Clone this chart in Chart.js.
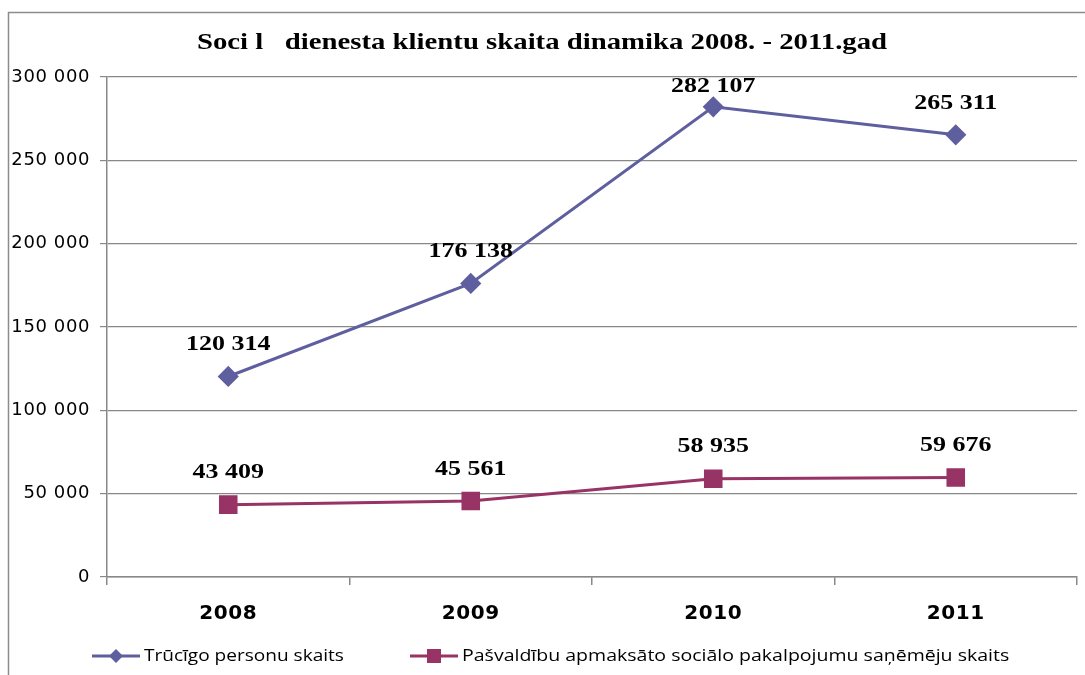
<!DOCTYPE html>
<html>
<head>
<meta charset="utf-8">
<script src="https://cdn.jsdelivr.net/npm/chart.js@4"></script>
<style>
  html, body { margin: 0; padding: 0; background: #fff; overflow: hidden; }
  #wrap { width: 1085px; height: 675px; }
</style>
</head>
<body>
<div id="wrap"><canvas id="chart" width="1085" height="675"></canvas></div>
<script>
const years = ['2008', '2009', '2010', '2011'];
const poorPersons = [120314, 176138, 282107, 265311];
const paidServices = [43409, 45561, 58935, 59676];
const seriesNames = ['Trūcīgo personu skaits', 'Pašvaldību apmaksāto sociālo pakalpojumu saņēmēju skaits'];
const yTicks = [0, 50000, 100000, 150000, 200000, 250000, 300000];
const chartTitle = 'Soci l   dienesta klientu skaita dinamika 2008. - 2011.gad';

const colors = ['#5f5f9f', '#983366'];

function fmt(v) {
    return String(v).replace(/\B(?=(\d{3})+(?!\d))/g, ' ');
}

// text stretched horizontally, the original is a wide render
function wideText(ctx, text, x, y, sx, align) {
    ctx.save();
    ctx.translate(x, y);
    ctx.scale(sx, 1);
    ctx.textAlign = align;
    ctx.fillText(text, 0, 0);
    ctx.restore();
}

// frame, title, value labels, legend
const extras = {
    id: 'extras',
    beforeDraw(chart) {
        const ctx = chart.ctx;
        ctx.save();
        ctx.strokeStyle = '#8c8c8c';
        ctx.lineWidth = 1.5;
        ctx.beginPath();
        ctx.moveTo(8.5, 675);
        ctx.lineTo(8.5, 12.5);
        ctx.lineTo(1085, 12.5);
        ctx.stroke();
        ctx.restore();
        // slightly wider axis text, like the original
        ctx.letterSpacing = '0.6px';
    },
    afterDatasetsDraw(chart) {
        const ctx = chart.ctx;
        ctx.letterSpacing = '0px';
        ctx.save();
        ctx.fillStyle = '#000';
        ctx.textBaseline = 'middle';
        ctx.font = 'bold 23px "Liberation Serif", "Times New Roman", serif';
        wideText(ctx, chartTitle, 542, 43, 1.25, 'center');

        ctx.font = 'bold 22px "Liberation Serif", "Times New Roman", serif';
        chart.data.datasets.forEach((ds, i) => {
            chart.getDatasetMeta(i).data.forEach((pt, j) => {
                const y = Math.max(pt.y - 32, 86);
                wideText(ctx, fmt(ds.data[j]), pt.x, y, 1.18, 'center');
            });
        });

        // legend
        ctx.font = '16px "Open Sans", sans-serif';
        const items = [{x: 92, style: 'diamond', sx: 1.19}, {x: 410, style: 'square', sx: 1.22}];
        items.forEach((it, i) => {
            const y = 656;
            ctx.strokeStyle = colors[i];
            ctx.fillStyle = colors[i];
            ctx.lineWidth = 3;
            ctx.beginPath();
            ctx.moveTo(it.x, y);
            ctx.lineTo(it.x + 48, y);
            ctx.stroke();
            const cx = it.x + 24;
            ctx.beginPath();
            if (it.style === 'diamond') {
                ctx.moveTo(cx, y - 7);
                ctx.lineTo(cx + 7, y);
                ctx.lineTo(cx, y + 7);
                ctx.lineTo(cx - 7, y);
                ctx.closePath();
            } else {
                ctx.rect(cx - 7, y - 7, 14, 14);
            }
            ctx.fill();
            ctx.fillStyle = '#000';
            wideText(ctx, seriesNames[i], it.x + 52, y, it.sx, 'left');
        });
        ctx.restore();
    }
};

new Chart(document.getElementById('chart'), {
    type: 'line',
    data: {
        labels: years,
        datasets: [
            {
                label: seriesNames[0],
                data: poorPersons,
                borderColor: colors[0],
                backgroundColor: colors[0],
                borderWidth: 3,
                pointStyle: 'rectRot',
                pointRadius: 8.5,
                pointHoverRadius: 8.5,
                tension: 0
            },
            {
                label: seriesNames[1],
                data: paidServices,
                borderColor: colors[1],
                backgroundColor: colors[1],
                borderWidth: 3,
                pointStyle: 'rect',
                pointRadius: 11,
                pointHoverRadius: 11,
                tension: 0
            }
        ]
    },
    options: {
        responsive: false,
        animation: false,
        events: [],
        layout: { autoPadding: false, padding: { top: 77, right: 8, left: 0, bottom: 0 } },
        plugins: {
            legend: { display: false },
            title: { display: false },
            tooltip: { enabled: false }
        },
        scales: {
            x: {
                offset: true,
                grid: { offset: true, drawOnChartArea: false, color: '#888', tickLength: 8, lineWidth: 1.5 },
                border: { color: '#888', width: 1.5 },
                ticks: {
                    color: '#000',
                    padding: 17,
                    font: { family: '"DejaVu Sans", sans-serif', size: 20, weight: 'bold' }
                },
                afterFit(scale) { scale.height = 98; }
            },
            y: {
                min: 0,
                max: 300000,
                afterBuildTicks(scale) { scale.ticks = yTicks.map(v => ({ value: v })); },
                grid: { color: '#888', tickLength: 7, lineWidth: 1.2 },
                border: { color: '#888', width: 1.5 },
                ticks: {
                    color: '#000',
                    padding: 10,
                    font: { family: '"DejaVu Sans", sans-serif', size: 18 },
                    callback: v => fmt(v)
                },
                afterFit(scale) { scale.width = 107; }
            }
        }
    },
    plugins: [extras]
});
</script>
</body>
</html>
